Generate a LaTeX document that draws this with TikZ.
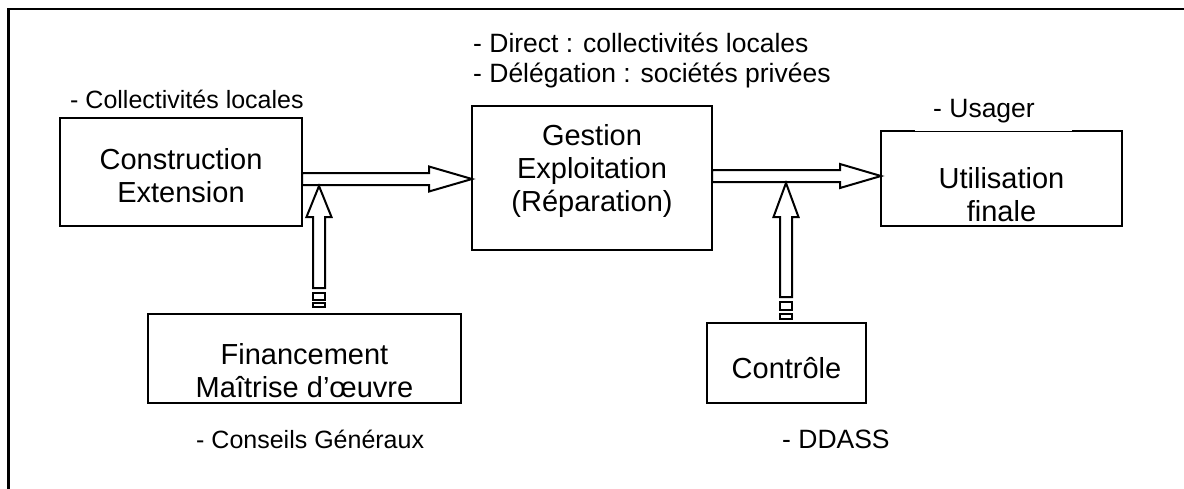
\documentclass[tikz,border=0pt]{standalone}
\usepackage{fontspec}
\setmainfont{Liberation Sans}
\usetikzlibrary{calc}
\tikzset{
  box/.style={draw, line width=2pt, inner sep=0pt, outer sep=0pt},
  boxtxt/.style={align=center, inner sep=0pt, font=\fontsize{29}{33}\selectfont},
  lbl/.style={anchor=base west, inner sep=0pt, font=\fontsize{25}{30}\selectfont},
  lblb/.style={lbl, font=\fontsize{26.5}{30}\selectfont},
  blk/.style={draw, fill=white, line width=2pt, line join=miter},
  tick/.style={draw, line width=1.6pt},
}
\begin{document}
\begin{tikzpicture}[x=1pt,y=-1pt]
\clip (0,0) rectangle (1184,488);
\fill[white] (0,0) rectangle (1184,488);
% outer frame (only top and left edges visible)
\draw[line width=2.2pt] (1200,9) -- (8.5,9) -- (8.5,500);

% boxes
\node[box, minimum width=242pt, minimum height=108pt] (ce) at (181,172) {};
\node[box, minimum width=240pt, minimum height=144pt] (ge) at (592,178) {};
\node[box, minimum width=241pt, minimum height=95pt] (ut) at (1001.5,178.5) {};
\node[box, minimum width=313pt, minimum height=89pt] (fi) at (304.5,358.5) {};
\node[box, minimum width=159pt, minimum height=80pt] (co) at (786.5,363) {};

% box texts
\node[boxtxt] (cet) at (181,175.5) {Construction\\Extension};
\node[boxtxt] (get) at (592,171) {Gestion\\Exploitation\\(Réparation)};
\node[boxtxt] (utt) at (1001.5,195) {Utilisation\\finale};
\node[boxtxt] (fit) at (304.5,370.5) {Financement\\Maîtrise d’œuvre};
\node[boxtxt] (cot) at (786.5,368) {Contrôle};

% labels
\node[lbl] (l1) at (70,108) {- Collectivités locales};
\node[lblb] (l2) at (473,52) {- Direct : collectivités locales};
\node[lblb] (l3) at (473,82) {- Délégation : sociétés privées};
\node[lblb] (l4) at (933,117) {- Usager};
\node[lbl] (l5) at (196,448) {- Conseils Généraux};
\node[lblb] (l6) at (782,448) {- DDASS};

% thin part of the top edge of the Utilisation box
\draw[white, line width=2.4pt] (915,131) -- (1072,131);
\draw[line width=0.8pt] (915,131) -- (1072,131);

% horizontal block arrows
\coordinate (a1s) at (ce.east |- 0,179);
\coordinate (a1t) at (ge.west |- 0,179);
\draw[blk] ($(a1s)+(0,-6)$) -- ($(a1t)+(-43,-6)$) -- ($(a1t)+(-43,-12.5)$) -- (a1t)
  -- ($(a1t)+(-43,12.5)$) -- ($(a1t)+(-43,6)$) -- ($(a1s)+(0,6)$) -- cycle;
\coordinate (a2s) at (ge.east |- 0,176);
\coordinate (a2t) at (ut.west |- 0,176);
\draw[blk] ($(a2s)+(0,-6)$) -- ($(a2t)+(-41,-6)$) -- ($(a2t)+(-41,-12)$) -- (a2t)
  -- ($(a2t)+(-41,12)$) -- ($(a2t)+(-41,6)$) -- ($(a2s)+(0,6)$) -- cycle;

% vertical block arrows
\coordinate (v1b) at (319,288);
\coordinate (v1t) at (319,186);
\draw[blk] ($(v1b)+(-6,0)$) -- ($(v1t)+(-6,31)$) -- ($(v1t)+(-12.5,31)$) -- (v1t)
  -- ($(v1t)+(12.5,31)$) -- ($(v1t)+(6,31)$) -- ($(v1b)+(6,0)$) -- cycle;
\draw[tick] (313,293) rectangle (325,300);
\draw[tick] (313,303) rectangle (325,307);

\coordinate (v2b) at (786,297);
\coordinate (v2t) at (786,183);
\draw[blk] ($(v2b)+(-6,0)$) -- ($(v2t)+(-6,34)$) -- ($(v2t)+(-12.5,34)$) -- (v2t)
  -- ($(v2t)+(12.5,34)$) -- ($(v2t)+(6,34)$) -- ($(v2b)+(6,0)$) -- cycle;
\draw[tick] (780,302) rectangle (792,310);
\draw[tick] (780,314) rectangle (792,319);
\end{tikzpicture}
\end{document}
